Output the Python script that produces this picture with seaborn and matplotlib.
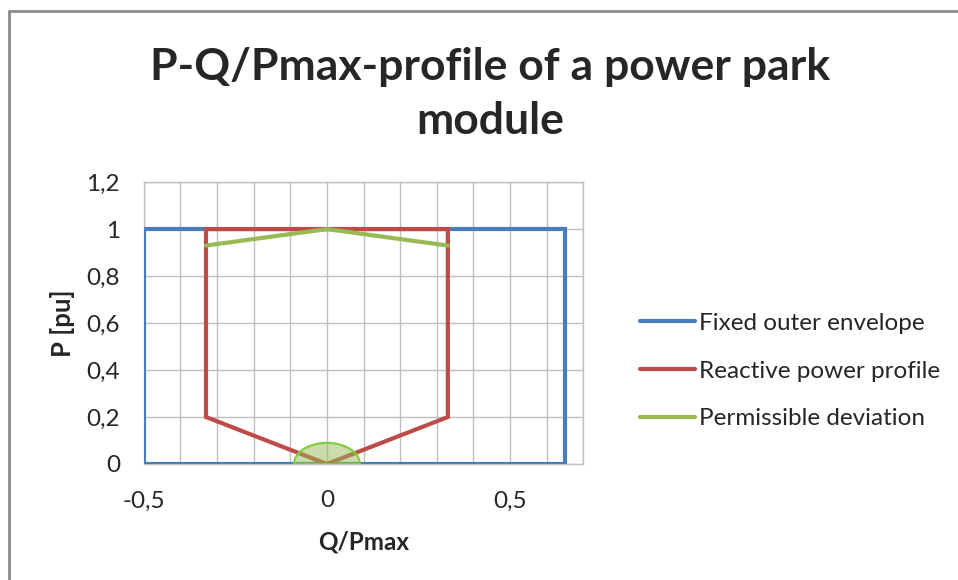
import numpy as np
import pandas as pd
import matplotlib
matplotlib.use("Agg")
import matplotlib.pyplot as plt
from matplotlib.patches import Wedge
from matplotlib.lines import Line2D
from matplotlib.ticker import MultipleLocator, FuncFormatter
import seaborn as sns

# Chart data
envelope_q = [-0.5, -0.5, 0.65, 0.65, -0.5]
envelope_p = [0.0, 1.0, 1.0, 0.0, 0.0]

reactive_q = [0.0, -0.33, -0.33, 0.33, 0.33, 0.0]
reactive_p = [0.0, 0.2, 1.0, 1.0, 0.2, 0.0]

deviation_q = [-0.33, 0.0, 0.33]
deviation_p = [0.93, 1.0, 0.93]

deviation_arc_radius = 0.09

series_names = ["Fixed outer envelope", "Reactive power profile", "Permissible deviation"]
series_colors = ["#4a7ebb", "#be4b48", "#98b954"]

sns.set_theme(style="white")
plt.rcParams["font.family"] = ["Lato", "DejaVu Sans"]

fig = plt.figure(figsize=(9.58, 5.8), dpi=100)
ax = fig.add_axes([0.15, 0.20, 0.459, 0.486])

frames = [
    pd.DataFrame({"Q": envelope_q, "P": envelope_p}),
    pd.DataFrame({"Q": reactive_q, "P": reactive_p}),
    pd.DataFrame({"Q": deviation_q, "P": deviation_p}),
]
for df, name, col in zip(frames, series_names, series_colors):
    sns.lineplot(data=df, x="Q", y="P", sort=False, estimator=None, ax=ax,
                 color=col, linewidth=3, solid_joinstyle="miter", zorder=3)

# semicircle of permissible deviation at the origin
ax.add_patch(Wedge((0, 0), deviation_arc_radius, 0, 180, facecolor="#98b954",
                   alpha=0.5, edgecolor="none", zorder=4))
ax.add_patch(Wedge((0, 0), deviation_arc_radius, 0, 180, facecolor="none",
                   edgecolor="#7dce3c", linewidth=1.5, zorder=4))

ax.set_xlim(-0.5, 0.7)
ax.set_ylim(0, 1.2)
ax.xaxis.set_major_locator(MultipleLocator(0.5))
ax.xaxis.set_minor_locator(MultipleLocator(0.1))
ax.yaxis.set_major_locator(MultipleLocator(0.2))

def comma_fmt(v, pos):
    s = f"{v:.1f}".rstrip("0").rstrip(".")
    if s == "-0":
        s = "0"
    return s.replace(".", ",")

ax.xaxis.set_major_formatter(FuncFormatter(comma_fmt))
ax.yaxis.set_major_formatter(FuncFormatter(comma_fmt))

ax.grid(which="both", axis="x", color="#bfbfbf", linewidth=1)
ax.grid(which="major", axis="y", color="#bfbfbf", linewidth=1)
for sp in ax.spines.values():
    sp.set_color("#bfbfbf")
    sp.set_linewidth(1)
ax.tick_params(axis="both", which="both", length=0, labelsize=17.5, colors="#262626")
ax.tick_params(axis="y", pad=17)
ax.tick_params(axis="x", pad=19)

ax.set_xlabel("Q/Pmax", fontsize=17.5, fontweight="bold", labelpad=14)
ax.set_ylabel("P [pu]", fontsize=18.5, fontweight="bold", labelpad=8)

fig.text(0.512, 0.838, "P-Q/Pmax-profile of a power park\nmodule", ha="center",
         va="center", fontsize=32, fontweight="bold", linespacing=1.45)

handles = [Line2D([], [], color=c, linewidth=3) for c in series_colors]
fig.legend(handles, series_names, loc="center left", bbox_to_anchor=(0.668, 0.36),
           frameon=False, fontsize=17.5, handlelength=2.25, handletextpad=0.2,
           labelspacing=1.1, borderaxespad=0, borderpad=0)

# outer chart border
fig.add_artist(Line2D([9 / 958, 9 / 958], [0, 1 - 11 / 580], color="#8c8c8c",
                      linewidth=2, transform=fig.transFigure))
fig.add_artist(Line2D([9 / 958, 1], [1 - 11 / 580, 1 - 11 / 580], color="#8c8c8c",
                      linewidth=2, transform=fig.transFigure))

fig.savefig("out.png", dpi=100)
